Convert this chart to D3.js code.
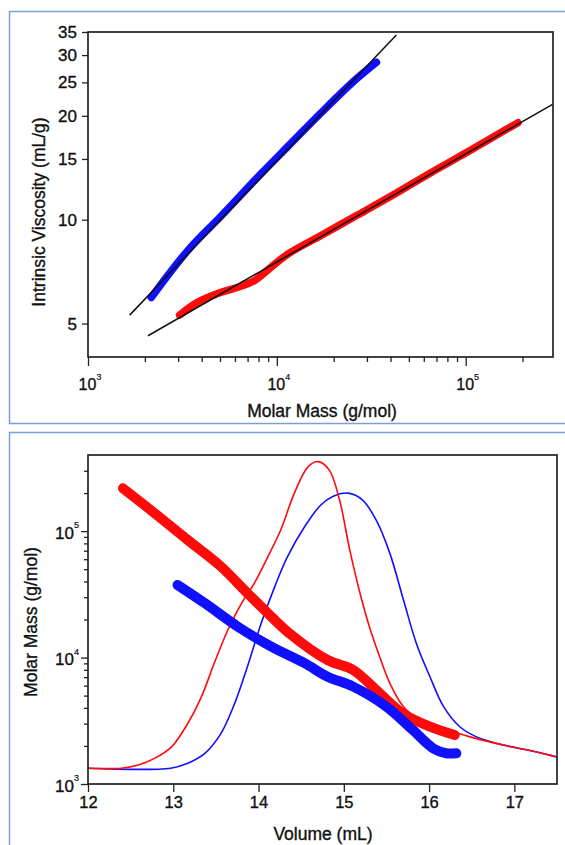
<!DOCTYPE html>
<html>
<head>
<meta charset="utf-8">
<script src="https://cdn.jsdelivr.net/npm/d3@7"></script>
<style>
  body { margin: 0; background: #fff; }
  text { font-family: "Liberation Sans", Arial, sans-serif; fill: #111; stroke: #111; stroke-width: 0.35px; }
</style>
</head>
<body>
<svg width="565" height="845"></svg>
<script>
// ---- top panel: intrinsic viscosity vs molar mass (log-log)
var ivBlue = [[2163,5.95],[3381,8.15],[5070,10.25],[8260,13.6],[11430,16.3],[17140,20.4],[25760,25.3],[33690,28.6]];
var ivRed = [[3055,5.29],[3819,5.77],[5070,6.16],[6223,6.37],[7620,6.66],[8955,7.15],[11430,7.95],[17140,9.0],
             [25760,10.2],[38640,11.55],[67160,13.8],[100000,15.6],[151400,17.8],[189300,19.1]];
var fitBlue = [[1662,5.29],[42950,34.3]];
var fitRed = [[2077,4.61],[288400,21.6]];
var ivTicks = [5,10,15,20,25,30,35];
var massMajor = [1e3,1e4,1e5];
var massMinor = [2e3,3e3,4e3,5e3,6e3,7e3,8e3,9e3,2e4,3e4,4e4,5e4,6e4,7e4,8e4,9e4,2e5];

// ---- bottom panel: molar mass and detector trace vs elution volume
var mmRed = [[12.41,2.18e5],[12.78,1.39e5],[13.17,8.51e4],[13.56,5.24e4],[13.87,3.23e4],[14.11,2.24e4],[14.34,1.60e4],
             [14.81,9570],[15.11,7980],[15.38,5540],[15.69,3620],[16.01,2840],[16.30,2440]];
var mmBlue = [[13.05,3.75e4],[13.37,2.69e4],[13.76,1.75e4],[14.15,1.22e4],[14.54,9020],[14.81,7060],[15.11,5890],
              [15.50,4090],[15.81,2670],[16.05,1910],[16.20,1750],[16.32,1750]];
// detector signal, % of full scale
var sigRed = [[12.00,4.8],[12.39,4.8],[12.59,5.8],[12.78,7.8],[12.98,11.3],[13.17,18.4],[13.33,26.5],[13.48,36.7],
              [13.64,46.8],[13.80,54.9],[13.95,61.0],[14.11,69.1],[14.26,77.2],[14.42,88.4],[14.58,96.4],[14.70,98.0],
              [14.83,95.4],[14.95,86.3],[15.07,71.1],[15.19,58.0],[15.30,47.8],[15.42,38.7],[15.54,30.6],[15.70,23.5],
              [15.89,19.5],[16.08,17.4],[16.28,15.9],[16.47,14.4],[16.86,11.9],[17.25,9.8],[17.50,8.2]];
var sigBlue = [[12.00,4.8],[12.97,4.8],[13.17,6.3],[13.37,9.3],[13.56,15.4],[13.72,24.5],[13.87,35.7],[14.03,48.8],
               [14.19,60.0],[14.34,69.1],[14.54,78.2],[14.73,84.8],[14.87,87.4],[15.05,88.4],[15.22,86.3],[15.38,80.2],
               [15.54,70.1],[15.70,55.9],[15.85,42.8],[16.01,32.6],[16.17,23.5],[16.36,17.4],[16.55,14.4],[16.86,11.9],
               [17.25,9.8],[17.50,8.2]];
var volTicks = [12,13,14,15,16,17];
var mmMajor = [1e3,1e4,1e5];
var mmMinor = [2e3,3e3,4e3,5e3,6e3,7e3,8e3,9e3,2e4,3e4,4e4,5e4,6e4,7e4,8e4,9e4,2e5,3e5];

var svg = d3.select("svg");
var RED = "#ff0a0a", BLUE = "#1010ff";

// panel frames
svg.append("rect").attr("x",9.5).attr("y",11.5).attr("width",580).attr("height",412)
  .attr("fill","none").attr("stroke","#7aa0d4").attr("stroke-width",1.5);
svg.append("rect").attr("x",9.5).attr("y",432.5).attr("width",580).attr("height",430)
  .attr("fill","none").attr("stroke","#7aa0d4").attr("stroke-width",1.5);

function pow10Label(g, x, y, v, anchor, size) {
  var t = g.append("text").attr("x",x).attr("y",y).attr("text-anchor",anchor).style("font-size",size+"px");
  t.append("tspan").text("10");
  t.append("tspan").attr("dy",-size*0.6).style("font-size","9px").style("stroke-width","0.2px")
    .text(Math.round(Math.log10(v)));
}
function noDomain(g) { g.select(".domain").remove(); g.selectAll(".tick line").attr("stroke","#222").attr("stroke-width",1.3); }

// ================= top panel
var x1 = d3.scaleLog().domain([1e3,2.9e5]).range([88,553]);
var y1 = d3.scaleLog().domain([4,35]).range([357,32]);
var gTop = svg.append("g");
gTop.append("defs").append("clipPath").attr("id","c1").append("rect")
  .attr("x",88).attr("y",32).attr("width",465).attr("height",325);

gTop.append("g").attr("transform","translate(0,357)")
  .call(d3.axisBottom(x1).tickValues(massMajor).tickSize(9).tickFormat("")).call(noDomain);
gTop.append("g").attr("transform","translate(0,357)")
  .call(d3.axisBottom(x1).tickValues(massMinor).tickSize(5).tickFormat("")).call(noDomain);
gTop.append("g").attr("transform","translate(88,0)")
  .call(d3.axisLeft(y1).tickValues(ivTicks).tickSize(6).tickPadding(5).tickFormat(d3.format("d")))
  .call(noDomain)
  .selectAll("text").style("font-size","17px").attr("fill","#111");
massMajor.forEach(function(v){ pow10Label(gTop, x1(v)+2, 390, v, "middle", 16); });

var curve = d3.curveCatmullRom.alpha(0.5);
var line1 = d3.line().x(function(d){return x1(d[0]);}).y(function(d){return y1(d[1]);}).curve(curve);
var plot1 = gTop.append("g").attr("clip-path","url(#c1)");
plot1.append("path").datum(ivBlue).attr("d",line1).attr("fill","none").attr("stroke",BLUE)
  .attr("stroke-width",7.5).attr("stroke-linecap","round").attr("stroke-linejoin","round");
plot1.append("path").datum(ivRed).attr("d",line1).attr("fill","none").attr("stroke",RED)
  .attr("stroke-width",7.5).attr("stroke-linecap","round").attr("stroke-linejoin","round");
[fitBlue, fitRed].forEach(function(f){
  plot1.append("path").datum(f).attr("d",d3.line().x(function(d){return x1(d[0]);}).y(function(d){return y1(d[1]);}))
    .attr("fill","none").attr("stroke","#111").attr("stroke-width",1.5);
});
gTop.append("rect").attr("x",88).attr("y",32).attr("width",465).attr("height",325)
  .attr("fill","none").attr("stroke","#222").attr("stroke-width",1.7);

gTop.append("text").attr("x",322).attr("y",417).attr("text-anchor","middle").style("font-size","17.5px")
  .text("Molar Mass (g/mol)");
gTop.append("text").attr("transform","translate(45,212) rotate(-90)").attr("text-anchor","middle")
  .style("font-size","17.5px").text("Intrinsic Viscosity (mL/g)");

// ================= bottom panel
var x2 = d3.scaleLinear().domain([12,17.5]).range([88,557]);
var y2 = d3.scaleLog().domain([1e3,4e5]).range([784,455]);
var ys = d3.scaleLinear().domain([0,100]).range([784,455]);
var gBot = svg.append("g");
gBot.append("defs").append("clipPath").attr("id","c2").append("rect")
  .attr("x",88).attr("y",455).attr("width",469).attr("height",329);

gBot.append("g").attr("transform","translate(0,784)")
  .call(d3.axisBottom(x2).tickValues(volTicks).tickSize(8).tickPadding(4).tickFormat(d3.format("d")))
  .call(noDomain)
  .selectAll("text").style("font-size","16.5px").attr("fill","#111");
gBot.append("g").attr("transform","translate(88,0)")
  .call(d3.axisLeft(y2).tickValues(mmMajor).tickSize(7).tickFormat("")).call(noDomain);
gBot.append("g").attr("transform","translate(88,0)")
  .call(d3.axisLeft(y2).tickValues(mmMinor).tickSize(4).tickFormat("")).call(noDomain);
mmMajor.forEach(function(v){ pow10Label(gBot, 79, y2(v)+7.5, v, "end", 17); });

var line2 = d3.line().x(function(d){return x2(d[0]);}).y(function(d){return y2(d[1]);}).curve(curve);
var lineS = d3.line().x(function(d){return x2(d[0]);}).y(function(d){return ys(d[1]);}).curve(curve);
var plot2 = gBot.append("g").attr("clip-path","url(#c2)");
plot2.append("path").datum(sigBlue).attr("d",lineS).attr("fill","none").attr("stroke",BLUE).attr("stroke-width",1.6);
plot2.append("path").datum(sigRed).attr("d",lineS).attr("fill","none").attr("stroke",RED).attr("stroke-width",1.6);
plot2.append("path").datum(mmRed).attr("d",line2).attr("fill","none").attr("stroke",RED)
  .attr("stroke-width",10).attr("stroke-linecap","round").attr("stroke-linejoin","round");
plot2.append("path").datum(mmBlue).attr("d",line2).attr("fill","none").attr("stroke",BLUE)
  .attr("stroke-width",10).attr("stroke-linecap","round").attr("stroke-linejoin","round");
gBot.append("rect").attr("x",88).attr("y",455).attr("width",469).attr("height",329)
  .attr("fill","none").attr("stroke","#222").attr("stroke-width",1.7);

gBot.append("text").attr("x",323).attr("y",840).attr("text-anchor","middle").style("font-size","17.5px")
  .text("Volume (mL)");
gBot.append("text").attr("transform","translate(37,622) rotate(-90)").attr("text-anchor","middle")
  .style("font-size","17.5px").text("Molar Mass (g/mol)");
</script>
</body>
</html>
